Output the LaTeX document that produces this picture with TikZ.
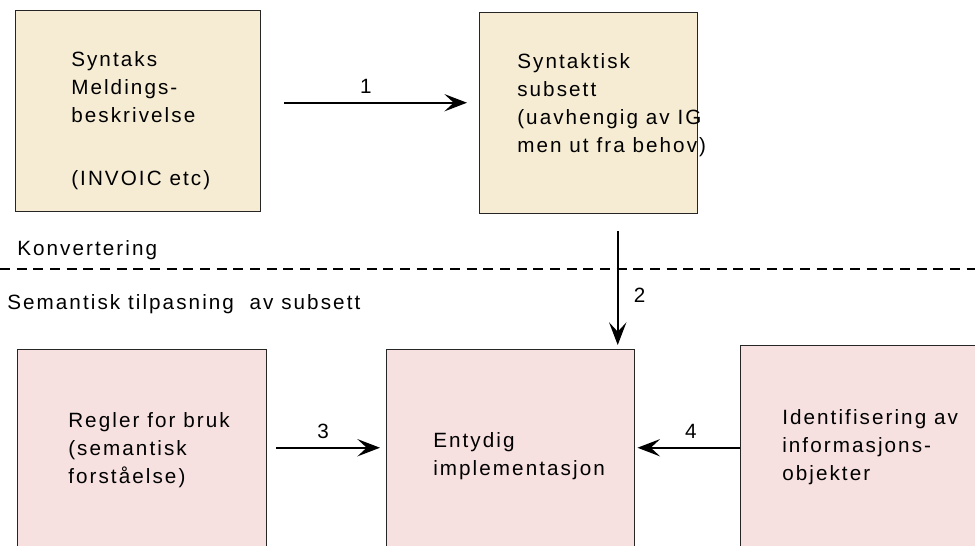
\documentclass[tikz,border=0pt]{standalone}
\usepackage{fontspec}
\setmainfont{Liberation Sans}[LetterSpace=10]
\usetikzlibrary{calc,arrows.meta}
\definecolor{beige}{RGB}{246,236,212}
\definecolor{rosa}{RGB}{247,224,224}

\begin{document}
\begin{tikzpicture}[x=0.75pt,y=-0.75pt,
	boks/.style={draw=black!85,line width=1.1pt,rectangle,inner sep=0pt,anchor=north west},
	tekst/.style={anchor=base west,align=left,inner sep=0pt,font=\fontsize{15.5pt}{21pt}\selectfont},
	pil/.style={line width=1.2pt,-{Stealth[length=17pt,width=13pt,inset=7pt]}},
	tall/.style={font=\fontsize{15.5pt}{18pt}\selectfont,inner sep=1pt}]
\useasboundingbox (0,0) rectangle (975,546);
\clip (0,0) rectangle (975,546);

% syntaks-delen
\node[boks,fill=beige,minimum width=183.75pt,minimum height=150.75pt] (syntaks) at (15,10) {};
\node[boks,fill=beige,minimum width=163.5pt,minimum height=150.75pt] (syntaktisk) at (479,12) {};
\node[tekst] (syntaksTxt) at ($(syntaks.north west)+(56,175)$)
	{Syntaks\\Meldings-\\beskrivelse\\[26pt](INVOIC etc)};
\node[tekst] (syntaktiskTxt) at ($(syntaktisk.north west)+(38,140)$)
	{Syntaktisk\\subsett\\(uavhengig av IG\\men ut fra behov)};

% skillelinje
\coordinate (venstre) at (0,269);
\coordinate (hoyre) at (975,269);
\draw[dash pattern=on 7.5pt off 5pt,line width=1.1pt] (venstre) -- (hoyre);
\node[tekst] (konv) at (17,255) {Konvertering};
\node[tekst] (sem) at (7,309) {Semantisk tilpasning\ \ av subsett};

% semantikk-delen
\node[boks,fill=rosa,minimum width=186.75pt,minimum height=203.25pt] (regler) at (17,349) {};
\node[boks,fill=rosa,minimum width=186pt,minimum height=203.25pt] (entydig) at (386,349) {};
\node[boks,fill=rosa,minimum width=202.5pt,minimum height=206.25pt] (ident) at (740,345) {};
\node[tekst] (reglerTxt) at ($(regler.north west)+(51,134)$)
	{Regler for bruk\\(semantisk\\forståelse)};
\node[tekst] (entydigTxt) at ($(entydig.north west)+(47,126)$)
	{Entydig\\implementasjon};
\node[tekst] (identTxt) at ($(ident.north west)+(42,135)$)
	{Identifisering av\\informasjons-\\objekter};

\draw[pil] ($(syntaks.east)+(23,-8.5)$) -- ($(syntaktisk.west)+(-12,-10.5)$)
	node[tall,pos=0.446,above=5pt] {1};
\draw[pil] ($(syntaktisk.south)+(29,17)$) -- ($(entydig.north)+(107,-4)$)
	node[tall,pos=0.565,right=10.5pt] {2};
\draw[pil] ($(regler.east)+(9,-37.5)$) -- ($(entydig.west)+(-6,-37.5)$)
	node[tall,pos=0.45,above=5pt] {3};
\draw[pil] ($(ident.west)+(0,-35.5)$) -- ($(entydig.east)+(2,-37.5)$)
	node[tall,pos=0.48,above=5pt] {4};
\end{tikzpicture}
\end{document}
